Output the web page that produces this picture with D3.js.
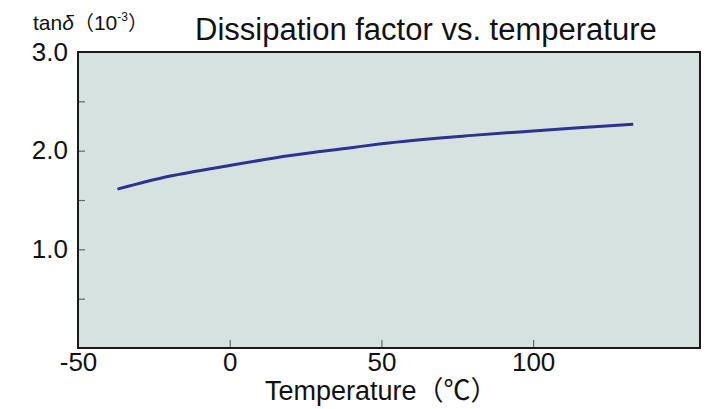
<!DOCTYPE html>
<html>
<head>
<meta charset="utf-8">
<script src="https://cdn.jsdelivr.net/npm/d3@7"></script>
<style>
  body { margin: 0; background: #fff; }
  text { font-family: "Liberation Sans", Arial, "Noto Sans CJK JP", sans-serif; fill: #111; }
</style>
</head>
<body>
<div id="chart"></div>
<script>
// temperature (°C) and tan delta (x10^-3)
const temps = [-37, -20, 0, 20, 40, 50, 80, 100, 115, 133];
const tanDelta = [1.61, 1.74, 1.85, 1.95, 2.03, 2.07, 2.155, 2.20, 2.232, 2.267];
const xTicks = [-50, 0, 50, 100];
const yTicks = [0.5, 1.0, 1.5, 2.0, 2.5];
const yLabels = [1.0, 2.0, 3.0];

const width = 717, height = 409;
const margin = { top: 52, right: 17, bottom: 61, left: 78 };
const w = width - margin.left - margin.right;
const h = height - margin.top - margin.bottom;

const svg = d3.select("#chart")
    .append("svg")
    .attr("width", width)
    .attr("height", height);

const g = svg.append("g")
    .attr("transform", "translate(" + margin.left + "," + margin.top + ")");

// scales
const scaleX = d3.scaleLinear()
    .domain([-50, 155])
    .range([0, w]);

const scaleY = d3.scaleLinear()
    .domain([0, 3])
    .range([h, 0]);

// plot background
g.append("rect")
    .attr("width", w)
    .attr("height", h)
    .attr("fill", "#d6e2df");

// inner ticks
g.append("g")
    .attr("transform", "translate(0," + h + ")")
    .call(d3.axisTop(scaleX).tickValues(xTicks.filter(d => d > -50)).tickSize(8).tickFormat(""))
    .call(s => s.select(".domain").remove())
    .call(s => s.selectAll("line").attr("stroke", "#666").attr("stroke-width", 1.2));

g.append("g")
    .call(d3.axisRight(scaleY).tickValues(yTicks).tickSize(7).tickFormat(""))
    .call(s => s.select(".domain").remove())
    .call(s => s.selectAll("line").attr("stroke", "#666").attr("stroke-width", 1.2));

// tick labels (plain hyphen for negatives)
g.append("g")
    .attr("transform", "translate(0," + h + ")")
    .call(d3.axisBottom(scaleX).tickValues(xTicks).tickSize(0).tickPadding(5).tickFormat(d => String(d)))
    .call(s => s.select(".domain").remove())
    .call(s => s.selectAll("text")
        .attr("font-size", 26)
        .attr("fill", "#111")
        .attr("font-family", "Liberation Sans, Arial, sans-serif"));

g.append("g")
    .call(d3.axisLeft(scaleY).tickValues(yLabels).tickSize(0).tickPadding(10).tickFormat(d3.format(".1f")))
    .call(s => s.select(".domain").remove())
    .call(s => s.selectAll("text")
        .attr("font-size", 26)
        .attr("fill", "#111")
        .attr("font-family", "Liberation Sans, Arial, sans-serif"));

// frame
g.append("rect")
    .attr("width", w)
    .attr("height", h)
    .attr("fill", "none")
    .attr("stroke", "#1a1a1a")
    .attr("stroke-width", 2);

// curve
const lineFunc = d3.line()
    .x((d, i) => scaleX(temps[i]))
    .y(d => scaleY(d))
    .curve(d3.curveMonotoneX);

g.append("path")
    .attr("d", lineFunc(tanDelta))
    .attr("fill", "none")
    .attr("stroke", "#2e3192")
    .attr("stroke-width", 3);

// titles
svg.append("text")
    .attr("x", 195)
    .attr("y", 40)
    .attr("font-size", 31)
    .text("Dissipation factor vs. temperature");

const yt = svg.append("text")
    .attr("x", 33)
    .attr("y", 30)
    .attr("font-size", 21);
yt.append("tspan").text("tan");
yt.append("tspan").attr("font-style", "italic").text("δ");
yt.append("tspan").attr("font-family", "Noto Sans CJK JP").attr("font-size", 20).text("（");
yt.append("tspan").text("10");
yt.append("tspan").attr("font-size", 12).attr("dy", -9).text("-3");
yt.append("tspan").attr("dy", 9).attr("font-family", "Noto Sans CJK JP").attr("font-size", 20).text("）");

svg.append("text")
    .attr("x", 265)
    .attr("y", 400)
    .attr("font-size", 27)
    .text("Temperature（℃）");
</script>
</body>
</html>
